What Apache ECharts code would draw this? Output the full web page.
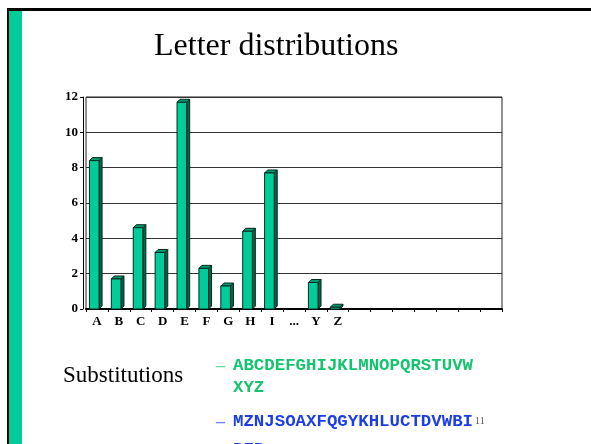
<!DOCTYPE html>
<html>
<head>
<meta charset="utf-8">
<title>Letter distributions</title>
<script src="https://cdn.jsdelivr.net/npm/echarts@6/dist/echarts.min.js"></script>
<style>
  html, body { margin: 0; padding: 0; background: #fff; }
  #chart { width: 591px; height: 444px; }
</style>
</head>
<body>
<div id="chart"></div>
<script>
// Letter positions along the axis (blank slots keep the spacing of the remaining letters)
const categories = ['A', 'B', 'C', 'D', 'E', 'F', 'G', 'H', 'I', '...', 'Y', 'Z',
  ' ', '  ', '   ', '    ', '     ', '      ', '       '];
// Relative frequency (%) of each letter
const frequencies = [8.4, 1.7, 4.6, 3.2, 11.7, 2.3, 1.3, 4.4, 7.7, null, 1.5, 0.1,
  null, null, null, null, null, null, null];
const yTicks = [0, 2, 4, 6, 8, 10, 12];

const plainAlphabet = ['ABCDEFGHIJKLMNOPQRSTUVW', 'XYZ'];
const cipherAlphabet = ['MZNJSOAXFQGYKHLUCTDVWBI', 'PER'];

const chart = echarts.init(document.getElementById('chart'));

// Column with a shallow extruded side and top face
function renderColumn(params, api) {
  const v = api.value(1);
  if (v == null || isNaN(v)) return;
  const top = api.coord([api.value(0), v]);
  const base = api.coord([api.value(0), 0]);
  const band = api.size([1, 0])[0];
  const w = band * 0.44;
  const d = 3;
  const x0 = top[0] - 7.5;
  const x1 = x0 + w;
  const stroke = { stroke: '#062a1e', lineWidth: 1 };
  return {
    type: 'group',
    children: [
      { type: 'polygon', shape: { points: [[x1, top[1]], [x1 + d, top[1] - d], [x1 + d, base[1] - d], [x1, base[1]]] },
        style: Object.assign({ fill: '#00664c' }, stroke) },
      { type: 'polygon', shape: { points: [[x0, top[1]], [x0 + d, top[1] - d], [x1 + d, top[1] - d], [x1, top[1]]] },
        style: Object.assign({ fill: '#009970' }, stroke) },
      { type: 'rect', shape: { x: x0, y: top[1], width: w, height: base[1] - top[1] },
        style: Object.assign({ fill: '#00cc99' }, stroke) }
    ]
  };
}

const serif = 'Liberation Serif';
const mono = 'Liberation Mono';

chart.setOption({
  animation: false,
  backgroundColor: '#ffffff',
  grid: {
    left: 86, right: 89, top: 97, bottom: 135,
    show: true, borderColor: '#222', borderWidth: 1, backgroundColor: 'transparent'
  },
  xAxis: {
    type: 'category',
    data: categories,
    axisLine: { lineStyle: { color: '#000', width: 2 } },
    axisTick: { show: true, length: 3, lineStyle: { color: '#000' } },
    axisLabel: { color: '#000', fontFamily: serif, fontWeight: 'bold', fontSize: 13, margin: 6, interval: 0 },
    splitLine: { show: false }
  },
  yAxis: {
    type: 'value',
    min: yTicks[0], max: yTicks[yTicks.length - 1], interval: 2,
    offset: 3,
    axisLine: { show: true, lineStyle: { color: '#000', width: 1 } },
    axisTick: { show: true, length: 3, lineStyle: { color: '#000' } },
    axisLabel: { color: '#000', fontFamily: serif, fontWeight: 'bold', fontSize: 13, margin: 5 },
    splitLine: { show: true, lineStyle: { color: '#333', width: 1 } }
  },
  series: [{
    type: 'custom',
    renderItem: renderColumn,
    clip: false,
    encode: { x: 0, y: 1 },
    data: frequencies.map((v, i) => [i, v])
  }],
  graphic: [
    // slide frame: top rule, left rule and green side band
    { type: 'rect', shape: { x: 7, y: 8, width: 584, height: 3 }, style: { fill: '#000' } },
    { type: 'rect', shape: { x: 7, y: 8, width: 2, height: 436 }, style: { fill: '#000' } },
    { type: 'rect', shape: { x: 9, y: 11, width: 13, height: 433 }, style: { fill: '#00cc99' } },
    { type: 'text', x: 154, y: 47, style: { text: 'Letter distributions', font: '32px "' + serif + '"', fill: '#000', verticalAlign: 'middle' } },
    { type: 'text', x: 63, y: 376, style: { text: 'Substitutions', font: '23px "' + serif + '"', fill: '#000', verticalAlign: 'middle' } },
    { type: 'text', x: 216, y: 366, style: { text: '\u2013', font: 'bold 18px "' + serif + '"', fill: '#70d8a0', verticalAlign: 'middle' } },
    { type: 'text', x: 233, y: 366, style: { text: plainAlphabet[0], font: 'bold 17.4px "' + mono + '"', fill: '#14c46e', verticalAlign: 'middle' } },
    { type: 'text', x: 233, y: 388, style: { text: plainAlphabet[1], font: 'bold 17.4px "' + mono + '"', fill: '#14c46e', verticalAlign: 'middle' } },
    { type: 'text', x: 216, y: 422, style: { text: '\u2013', font: 'bold 18px "' + serif + '"', fill: '#7088f0', verticalAlign: 'middle' } },
    { type: 'text', x: 233, y: 422, style: { text: cipherAlphabet[0], font: 'bold 17.4px "' + mono + '"', fill: '#1c3ee6', verticalAlign: 'middle' } },
    { type: 'text', x: 233, y: 450, style: { text: cipherAlphabet[1], font: 'bold 17.4px "' + mono + '"', fill: '#1c3ee6', verticalAlign: 'middle' } },
    { type: 'text', x: 475, y: 421, style: { text: '11', font: '10px "' + serif + '"', fill: '#555', verticalAlign: 'middle' } }
  ]
});
</script>
</body>
</html>
